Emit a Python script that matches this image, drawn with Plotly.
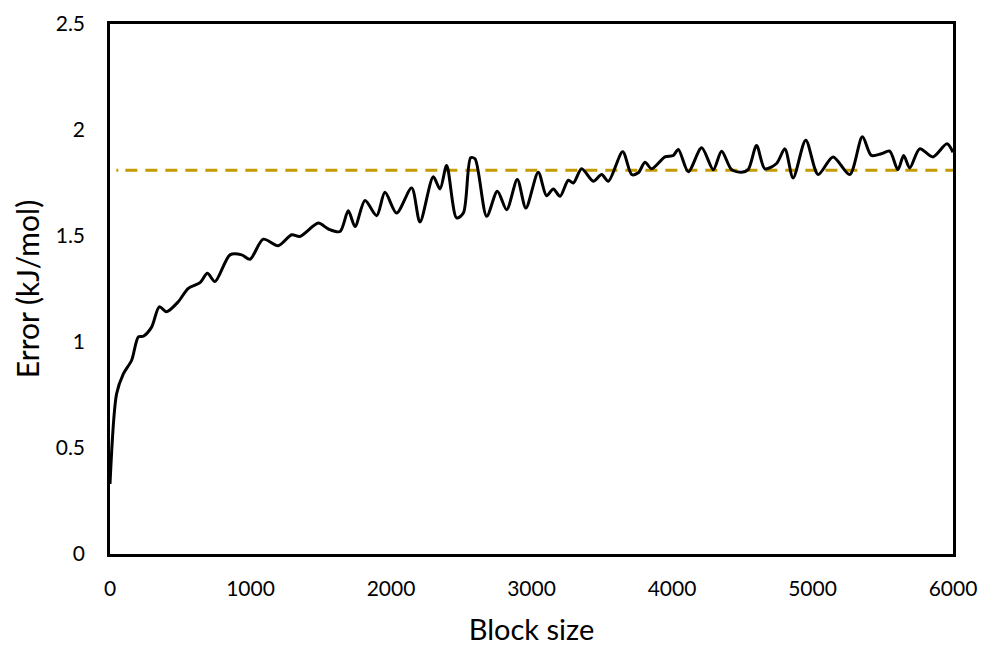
import plotly.graph_objects as go

block_size = [0, 47, 95, 154, 202, 237, 296, 351, 403, 486, 557, 641, 693, 747, 854, 937, 996,
              1091, 1198, 1293, 1352, 1483, 1554, 1637, 1696, 1744, 1815, 1898, 1957, 2040, 2147,
              2206, 2301, 2349, 2396, 2467, 2515, 2567, 2598, 2681, 2757, 2823, 2899, 2960, 3048,
              3107, 3155, 3203, 3262, 3298, 3357, 3440, 3499, 3547, 3649, 3713, 3760, 3808, 3855,
              3950, 4009, 4045, 4116, 4211, 4294, 4353, 4424, 4495, 4542, 4602, 4661, 4744, 4803,
              4862, 4952, 5040, 5146, 5265, 5355, 5419, 5490, 5549, 5608, 5649, 5692, 5763, 5857,
              5957, 6000]
error = [0.33, 0.756, 0.85, 0.914, 1.024, 1.027, 1.07, 1.166, 1.143, 1.19, 1.253, 1.28, 1.324,
         1.285, 1.411, 1.411, 1.39, 1.485, 1.454, 1.506, 1.498, 1.561, 1.533, 1.521, 1.619, 1.545,
         1.667, 1.596, 1.706, 1.608, 1.727, 1.566, 1.779, 1.722, 1.832, 1.585, 1.608, 1.869, 1.864,
         1.593, 1.711, 1.624, 1.766, 1.632, 1.801, 1.69, 1.722, 1.687, 1.763, 1.75, 1.817, 1.758,
         1.79, 1.758, 1.897, 1.79, 1.798, 1.848, 1.817, 1.873, 1.88, 1.908, 1.803, 1.916, 1.813,
         1.9, 1.813, 1.801, 1.813, 1.927, 1.817, 1.842, 1.911, 1.774, 1.952, 1.79, 1.873, 1.79,
         1.968, 1.88, 1.888, 1.9, 1.813, 1.88, 1.821, 1.911, 1.873, 1.935, 1.895]
reference_error = 1.81
ref_x = [45, 6000]

x_ticks = [0, 1000, 2000, 3000, 4000, 5000, 6000]
y_ticks = [0, 0.5, 1, 1.5, 2, 2.5]
y_tick_labels = ["0", "0.5", "1", "1.5", "2", "2.5"]

fig = go.Figure()
fig.add_trace(go.Scatter(
    x=ref_x, y=[reference_error, reference_error], mode="lines",
    line=dict(color="#C49A00", width=3, dash="2px,7px,12px,8px,12px,8px,12px,8px,12px,8px,12px,8px,12px,8px,12px,8px,12px,8px,12px,8px,12px,8px,12px,8px,12px,8px,12px,8px,12px,8px,12px,8px,12px,8px,12px,8px,12px,8px,12px,8px,12px,8px,12px,8px,12px,8px,12px,8px,12px,8px,12px,8px,12px,8px,12px,8px,12px,8px,12px,8px,12px,8px,12px,8px,12px,8px,12px,8px,12px,8px,12px,8px,12px,8px,12px,8px,12px,8px,12px,8px,12px,8px,12px,8px,12px,8px,12px,8px,12px,8px,12px,8px"),
    showlegend=False, hoverinfo="skip"))
fig.add_trace(go.Scatter(
    x=block_size, y=error, mode="lines",
    line=dict(color="black", width=3, shape="spline", smoothing=0.8),
    showlegend=False))

font = dict(family="Lato, Open Sans, sans-serif", color="#000000")
fig.update_layout(
    width=981, height=646,
    margin=dict(l=110, r=28, t=24, b=92, autoexpand=False),
    paper_bgcolor="white", plot_bgcolor="white",
    font=font,
    xaxis=dict(range=[0, 6000], tickvals=x_ticks, showgrid=False, zeroline=False,
               showline=True, linecolor="black", linewidth=2.5, mirror=True,
               ticks="", ticklabelstandoff=14, automargin=False,
               tickfont=dict(size=21),
               title=dict(text="Block size", font=dict(size=29), standoff=22)),
    yaxis=dict(range=[0, 2.5], tickvals=y_ticks, ticktext=y_tick_labels, showgrid=False,
               zeroline=False, showline=True, linecolor="black", linewidth=2.5, mirror=True,
               ticks="", ticklabelstandoff=18, automargin=False,
               tickfont=dict(size=21),
               title=dict(text="Error (kJ/mol)", font=dict(size=30), standoff=8)),
)
fig.write_html("out.html", config={"displayModeBar": False},
               post_script="document.body.style.margin='0';document.body.style.overflow='hidden';")
